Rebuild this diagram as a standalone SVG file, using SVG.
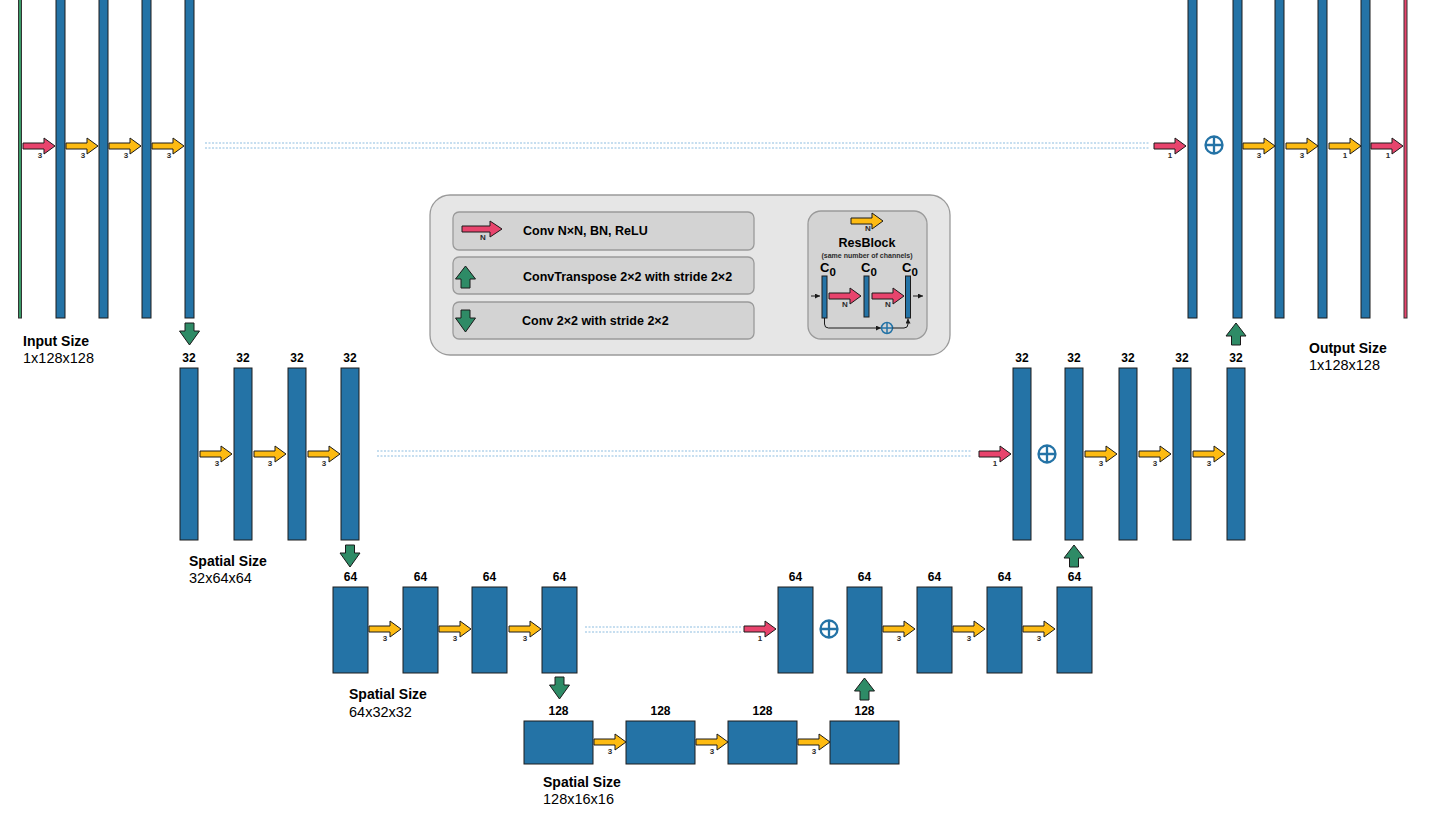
<svg xmlns="http://www.w3.org/2000/svg" xmlns:xlink="http://www.w3.org/1999/xlink" width="1432" height="836" viewBox="0 0 1432 836">
<style>
.bar{fill:#2473a6;stroke:#1c1c1c;stroke-width:1}
.inb{fill:#3a9a68;stroke:#333;stroke-width:1}
.outb{fill:#e8446d;stroke:#333;stroke-width:1}
.ya{fill:#fdbb12;stroke:#1a1a1a;stroke-width:1}
.ra{fill:#e8446d;stroke:#1a1a1a;stroke-width:1}
.ga{fill:#2e8b66;stroke:#1a1a1a;stroke-width:1}
.t{font-family:"Liberation Sans",Arial,sans-serif;font-weight:bold;font-size:12px;text-anchor:middle;fill:#000}
.k{font-family:"Liberation Sans",Arial,sans-serif;font-weight:bold;font-size:8px;text-anchor:middle;fill:#2b2b2b}
.ttl{font-family:"Liberation Sans",Arial,sans-serif;font-weight:bold;font-size:14px;fill:#000}
.dim{font-family:"Liberation Sans",Arial,sans-serif;font-size:14.5px;fill:#000}
.dot{stroke:#8dbde0;stroke-width:1;stroke-dasharray:2 1.5;fill:none}
.plus{fill:none;stroke:#2473a6;stroke-width:2.3}
.leg{font-family:"Liberation Sans",Arial,sans-serif;font-weight:bold;font-size:12.5px;fill:#000}
.box{fill:#d3d3d3;stroke:#9a9a9a;stroke-width:1.3}
.thin{fill:none;stroke:#1a1a1a;stroke-width:1}
</style>
<defs>
<path id="arr" d="M0,-3 H21 V-8 L32,0 L21,8 V3 H0 Z"/>
<path id="arrL" d="M0,-3 H28 V-8 L40,0 L28,8 V3 H0 Z"/>
<path id="dn" d="M-4.5,0 H4.5 V8 H10 L0,22 L-10,8 H-4.5 Z"/>
<path id="up" d="M0,0 L10,13 H4.5 V22 H-4.5 V13 H-10 Z"/>
<g id="oplus"><circle cx="0" cy="0" r="8.5"/><path d="M-8.5,0 H8.5 M0,-8.5 V8.5"/></g>
<marker id="mk" viewBox="0 0 6 6" refX="6" refY="3" markerWidth="5" markerHeight="5" orient="auto"><path d="M0,0 L6,3 L0,6 Z" fill="#1a1a1a"/></marker>
</defs>

<!-- Row 1 left -->
<g id="n_input"><rect class="inb" x="18.5" y="-2" width="3" height="320"/></g>
<g id="n_e1a"><rect class="bar" x="56" y="-2" width="9" height="320"/></g>
<g id="n_e1b"><rect class="bar" x="99" y="-2" width="9" height="320"/></g>
<g id="n_e1c"><rect class="bar" x="142" y="-2" width="9" height="320"/></g>
<g id="n_e1d"><rect class="bar" x="185" y="-2" width="9" height="320"/></g>
<!-- Row 1 right -->
<g id="n_d1a"><rect class="bar" x="1188" y="-2" width="9" height="320"/></g>
<g id="n_d1b"><rect class="bar" x="1233" y="-2" width="9" height="320"/></g>
<g id="n_d1c"><rect class="bar" x="1275" y="-2" width="9" height="320"/></g>
<g id="n_d1d"><rect class="bar" x="1318" y="-2" width="9" height="320"/></g>
<g id="n_d1e"><rect class="bar" x="1361" y="-2" width="9" height="320"/></g>
<g id="n_output"><rect class="outb" x="1404" y="-2" width="3" height="320"/></g>

<!-- Row 2 -->
<g id="n_e2a"><rect class="bar" x="180" y="368" width="18" height="172"/><text class="t" x="189" y="362">32</text></g>
<g id="n_e2b"><rect class="bar" x="234" y="368" width="18" height="172"/><text class="t" x="243" y="362">32</text></g>
<g id="n_e2c"><rect class="bar" x="288" y="368" width="18" height="172"/><text class="t" x="297" y="362">32</text></g>
<g id="n_e2d"><rect class="bar" x="341" y="368" width="18" height="172"/><text class="t" x="350" y="362">32</text></g>
<g id="n_d2a"><rect class="bar" x="1013" y="368" width="18" height="172"/><text class="t" x="1022" y="362">32</text></g>
<g id="n_d2b"><rect class="bar" x="1065" y="368" width="18" height="172"/><text class="t" x="1074" y="362">32</text></g>
<g id="n_d2c"><rect class="bar" x="1119" y="368" width="18" height="172"/><text class="t" x="1128" y="362">32</text></g>
<g id="n_d2d"><rect class="bar" x="1173" y="368" width="18" height="172"/><text class="t" x="1182" y="362">32</text></g>
<g id="n_d2e"><rect class="bar" x="1227" y="368" width="18" height="172"/><text class="t" x="1236" y="362">32</text></g>

<!-- Row 3 -->
<g id="n_e3a"><rect class="bar" x="333" y="587" width="35" height="86"/><text class="t" x="350.5" y="581">64</text></g>
<g id="n_e3b"><rect class="bar" x="403" y="587" width="35" height="86"/><text class="t" x="420.5" y="581">64</text></g>
<g id="n_e3c"><rect class="bar" x="472" y="587" width="35" height="86"/><text class="t" x="489.5" y="581">64</text></g>
<g id="n_e3d"><rect class="bar" x="542" y="587" width="35" height="86"/><text class="t" x="559.5" y="581">64</text></g>
<g id="n_d3a"><rect class="bar" x="778" y="587" width="35" height="86"/><text class="t" x="795.5" y="581">64</text></g>
<g id="n_d3b"><rect class="bar" x="847" y="587" width="35" height="86"/><text class="t" x="864.5" y="581">64</text></g>
<g id="n_d3c"><rect class="bar" x="917" y="587" width="35" height="86"/><text class="t" x="934.5" y="581">64</text></g>
<g id="n_d3d"><rect class="bar" x="987" y="587" width="35" height="86"/><text class="t" x="1004.5" y="581">64</text></g>
<g id="n_d3e"><rect class="bar" x="1057" y="587" width="35" height="86"/><text class="t" x="1074.5" y="581">64</text></g>

<!-- Row 4 -->
<g id="n_b4a"><rect class="bar" x="524" y="721" width="69" height="43"/><text class="t" x="558.5" y="715">128</text></g>
<g id="n_b4b"><rect class="bar" x="626" y="721" width="69" height="43"/><text class="t" x="660.5" y="715">128</text></g>
<g id="n_b4c"><rect class="bar" x="728" y="721" width="69" height="43"/><text class="t" x="762.5" y="715">128</text></g>
<g id="n_b4d"><rect class="bar" x="830" y="721" width="69" height="43"/><text class="t" x="864.5" y="715">128</text></g>

<!-- Size labels -->
<g id="sizes">
<text class="ttl" x="23" y="346">Input Size</text><text class="dim" x="23" y="363">1x128x128</text>
<text class="ttl" x="189" y="566">Spatial Size</text><text class="dim" x="189" y="583">32x64x64</text>
<text class="ttl" x="349" y="699">Spatial Size</text><text class="dim" x="349" y="717">64x32x32</text>
<text class="ttl" x="543" y="787">Spatial Size</text><text class="dim" x="543" y="804">128x16x16</text>
<text class="ttl" x="1309" y="353">Output Size</text><text class="dim" x="1309" y="370">1x128x128</text>
</g>

<!-- Connectors -->
<g id="connectors">
<path class="dot" d="M205,143 H1150 M205,148 H1150"/>
<path class="dot" d="M377,451 H972 M377,456 H972"/>
<path class="dot" d="M585,627 H742 M585,632 H742"/>

<use href="#arr" class="ra" x="23" y="146"/><text class="k" x="40" y="158">3</text>
<use href="#arr" class="ya" x="66" y="146"/><text class="k" x="83" y="158">3</text>
<use href="#arr" class="ya" x="109" y="146"/><text class="k" x="126" y="158">3</text>
<use href="#arr" class="ya" x="152" y="146"/><text class="k" x="169" y="158">3</text>
<use href="#arr" class="ra" x="1154" y="146"/><text class="k" x="1170" y="158">1</text>
<use href="#oplus" class="plus" x="1214" y="145"/>
<use href="#arr" class="ya" x="1243" y="146"/><text class="k" x="1259" y="158">3</text>
<use href="#arr" class="ya" x="1286" y="146"/><text class="k" x="1302" y="158">3</text>
<use href="#arr" class="ya" x="1329" y="146"/><text class="k" x="1345" y="158">1</text>
<use href="#arr" class="ra" x="1371" y="146"/><text class="k" x="1388" y="158">1</text>

<use href="#arr" class="ya" x="200" y="454"/><text class="k" x="217" y="466">3</text>
<use href="#arr" class="ya" x="254" y="454"/><text class="k" x="270" y="466">3</text>
<use href="#arr" class="ya" x="308" y="454"/><text class="k" x="324" y="466">3</text>
<use href="#arr" class="ra" x="979" y="454"/><text class="k" x="995" y="466">1</text>
<use href="#oplus" class="plus" x="1047" y="454"/>
<use href="#arr" class="ya" x="1085" y="454"/><text class="k" x="1101" y="466">3</text>
<use href="#arr" class="ya" x="1139" y="454"/><text class="k" x="1155" y="466">3</text>
<use href="#arr" class="ya" x="1193" y="454"/><text class="k" x="1209" y="466">3</text>

<use href="#arr" class="ya" x="369" y="629"/><text class="k" x="385" y="641">3</text>
<use href="#arr" class="ya" x="439" y="629"/><text class="k" x="455" y="641">3</text>
<use href="#arr" class="ya" x="509" y="629"/><text class="k" x="525" y="641">3</text>
<use href="#arr" class="ra" x="744" y="629"/><text class="k" x="760" y="641">1</text>
<use href="#oplus" class="plus" x="829" y="629"/>
<use href="#arr" class="ya" x="883" y="629"/><text class="k" x="899" y="641">3</text>
<use href="#arr" class="ya" x="953" y="629"/><text class="k" x="969" y="641">3</text>
<use href="#arr" class="ya" x="1023" y="629"/><text class="k" x="1039" y="641">3</text>

<use href="#arr" class="ya" x="594" y="742"/><text class="k" x="610" y="754">3</text>
<use href="#arr" class="ya" x="696" y="742"/><text class="k" x="712" y="754">3</text>
<use href="#arr" class="ya" x="798" y="742"/><text class="k" x="814" y="754">3</text>

<use href="#dn" class="ga" x="189.5" y="323"/>
<use href="#dn" class="ga" x="350" y="545"/>
<use href="#dn" class="ga" x="559.5" y="677"/>
<use href="#up" class="ga" x="864.5" y="678"/>
<use href="#up" class="ga" x="1074" y="545"/>
<use href="#up" class="ga" x="1236" y="323"/>
</g>

<!-- Legend -->
<g id="legend">
<rect x="430" y="195" width="520" height="160" rx="20" fill="#e6e6e6" stroke="#9a9a9a" stroke-width="1.3"/>
<rect class="box" x="453" y="212" width="301" height="38" rx="6"/>
<use href="#arrL" class="ra" x="462" y="229"/><text class="k" x="483" y="240">N</text>
<text class="leg" x="523" y="235">Conv N×N, BN, ReLU</text>
<rect class="box" x="453" y="257" width="301" height="37" rx="6"/>
<use href="#up" class="ga" x="465.5" y="266"/>
<text class="leg" x="523" y="281">ConvTranspose 2×2 with stride 2×2</text>
<rect class="box" x="453" y="302" width="301" height="37" rx="6"/>
<use href="#dn" class="ga" x="465.5" y="310"/>
<text class="leg" x="522" y="325">Conv 2×2 with stride 2×2</text>

<rect class="box" x="808" y="211" width="119" height="128" rx="13"/>
<use href="#arr" class="ya" x="851" y="221"/><text class="k" x="868" y="231">N</text>
<text class="t" x="867" y="247" style="font-size:12.5px">ResBlock</text>
<text class="k" x="867" y="258" style="font-size:7px">(same number of channels)</text>
<text class="leg" x="820" y="272" style="font-size:13px;fill:#000">C<tspan dy="4" style="font-size:11.5px;fill:#000">0</tspan></text>
<text class="leg" x="861" y="272" style="font-size:13px;fill:#000">C<tspan dy="4" style="font-size:11.5px;fill:#000">0</tspan></text>
<text class="leg" x="902" y="272" style="font-size:13px;fill:#000">C<tspan dy="4" style="font-size:11.5px;fill:#000">0</tspan></text>
<rect class="bar" x="822" y="276" width="5" height="42"/>
<rect class="bar" x="864" y="276" width="5" height="41"/>
<rect class="bar" x="905.5" y="276" width="5" height="42"/>
<path class="thin" d="M811,296 H820" marker-end="url(#mk)"/>
<path class="thin" d="M913,296 H923" marker-end="url(#mk)"/>
<use href="#arr" class="ra" x="829" y="296"/><text class="k" x="845" y="307">N</text>
<use href="#arr" class="ra" x="872" y="296"/><text class="k" x="888" y="307">N</text>
<path class="thin" d="M824.5,318 V324 Q824.5,328 828.5,328 H881" marker-end="url(#mk)"/>
<g class="plus" style="stroke-width:1.5"><circle cx="887" cy="328" r="5.5"/><path d="M881.5,328 H892.5 M887,322.5 V333.5"/></g>
<path class="thin" d="M892.5,328 H904 Q908,328 908,324 V318.5" marker-end="url(#mk)"/>
</g>
</svg>
